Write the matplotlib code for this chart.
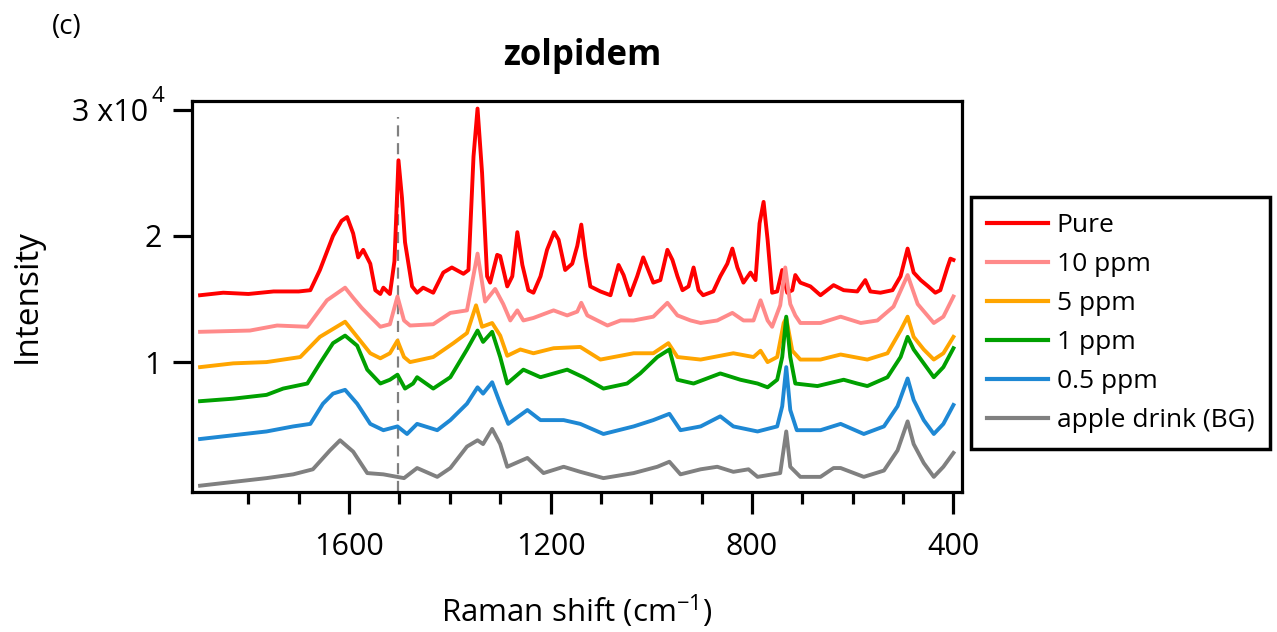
import matplotlib
matplotlib.use("Agg")
import matplotlib.pyplot as plt
from matplotlib.ticker import FixedLocator
from matplotlib.transforms import ScaledTranslation

# ---------------- data (intensity in units of 1e4) ----------------
labels = ["Pure", "10 ppm", "5 ppm", "1 ppm", "0.5 ppm", "apple drink (BG)"]
colors = ["#ff0000", "#ff8a8a", "#ffa500", "#00a000", "#1e88d4", "#808080"]

pure_wn = [1896, 1850, 1800, 1750, 1700, 1677, 1658, 1632, 1615, 1604, 1592, 1582, 1572, 1558,
           1548, 1538, 1532, 1519, 1510, 1502, 1495, 1489, 1475, 1465, 1453, 1433, 1413, 1396,
           1373, 1363, 1353, 1345, 1336, 1326, 1320, 1306, 1300, 1286, 1276, 1266, 1256, 1244,
           1234, 1220, 1207, 1193, 1184, 1171, 1157, 1147, 1139, 1131, 1121, 1101, 1081, 1065,
           1055, 1042, 1028, 1016, 1006, 996, 982, 968, 958, 948, 938, 926, 916, 906, 897, 877,
           863, 849, 839, 829, 817, 803, 793, 785, 777, 769, 760, 750, 740, 730, 720, 714, 704,
           684, 664, 638, 618, 591, 575, 565, 545, 521, 505, 491, 479, 465, 450, 436, 426, 412,
           406, 400]
pure_y = [1.53, 1.55, 1.54, 1.56, 1.56, 1.57, 1.73, 2.00, 2.12, 2.15, 2.02, 1.83, 1.89, 1.78,
          1.57, 1.54, 1.59, 1.54, 1.80, 2.60, 2.30, 1.95, 1.60, 1.55, 1.59, 1.55, 1.71, 1.75,
          1.70, 1.73, 2.63, 3.01, 2.50, 1.68, 1.63, 1.85, 1.84, 1.60, 1.68, 2.03, 1.77, 1.57,
          1.55, 1.68, 1.89, 2.03, 1.97, 1.73, 1.78, 1.92, 2.09, 1.84, 1.60, 1.56, 1.53, 1.77,
          1.69, 1.53, 1.68, 1.83, 1.73, 1.63, 1.65, 1.89, 1.81, 1.68, 1.57, 1.60, 1.75, 1.57,
          1.53, 1.56, 1.68, 1.78, 1.90, 1.75, 1.63, 1.71, 1.65, 2.10, 2.27, 1.97, 1.55, 1.56,
          1.73, 1.55, 1.57, 1.69, 1.63, 1.60, 1.53, 1.61, 1.57, 1.56, 1.65, 1.56, 1.55, 1.57,
          1.68, 1.90, 1.71, 1.65, 1.60, 1.55, 1.57, 1.75, 1.82, 1.81]

ppm10_wn = [1896, 1797, 1743, 1683, 1644, 1608, 1592, 1575, 1558, 1538, 1519, 1504, 1491, 1479,
            1433, 1399, 1366, 1345, 1330, 1310, 1294, 1280, 1266, 1254, 1234, 1194, 1167, 1147,
            1139, 1127, 1087, 1061, 1035, 996, 968, 948, 922, 902, 869, 839, 817, 797, 783, 769,
            760, 744, 734, 724, 714, 704, 664, 624, 584, 551, 519, 491, 471, 439, 420, 400]
ppm10_y = [1.24, 1.25, 1.29, 1.28, 1.49, 1.59, 1.51, 1.43, 1.36, 1.28, 1.30, 1.52, 1.33, 1.29,
           1.30, 1.39, 1.41, 1.86, 1.48, 1.58, 1.46, 1.33, 1.41, 1.33, 1.35, 1.41, 1.37, 1.40,
           1.47, 1.37, 1.29, 1.33, 1.33, 1.36, 1.47, 1.37, 1.33, 1.31, 1.33, 1.39, 1.33, 1.33,
           1.49, 1.33, 1.28, 1.45, 1.75, 1.46, 1.37, 1.31, 1.31, 1.36, 1.31, 1.33, 1.44, 1.69,
           1.46, 1.31, 1.36, 1.52]

ppm5_wn = [1896, 1830, 1764, 1697, 1658, 1608, 1584, 1558, 1538, 1519, 1504, 1491, 1479, 1433,
           1393, 1366, 1348, 1336, 1316, 1300, 1286, 1260, 1234, 1194, 1141, 1101, 1035, 996,
           966, 948, 902, 837, 797, 783, 769, 750, 737, 732, 720, 704, 664, 624, 571, 531, 505,
           491, 479, 459, 439, 420, 400]
ppm5_y = [0.96, 0.99, 1.00, 1.04, 1.20, 1.32, 1.20, 1.07, 1.03, 1.07, 1.17, 1.04, 1.00, 1.04,
          1.15, 1.23, 1.45, 1.28, 1.31, 1.21, 1.05, 1.10, 1.07, 1.11, 1.12, 1.02, 1.07, 1.07,
          1.15, 1.04, 1.02, 1.07, 1.04, 1.09, 1.00, 1.04, 1.31, 1.35, 1.09, 1.02, 1.02, 1.06,
          1.02, 1.07, 1.25, 1.36, 1.20, 1.10, 1.02, 1.07, 1.20]

ppm1_wn = [1896, 1830, 1764, 1731, 1683, 1658, 1632, 1608, 1584, 1564, 1538, 1519, 1504, 1489,
           1473, 1465, 1433, 1399, 1366, 1345, 1334, 1316, 1300, 1286, 1254, 1220, 1167, 1135,
           1095, 1048, 1022, 988, 964, 948, 916, 863, 823, 789, 769, 750, 740, 732, 724, 714,
           670, 618, 591, 571, 531, 505, 491, 479, 459, 439, 420, 400]
ppm1_y = [0.69, 0.71, 0.74, 0.79, 0.83, 0.99, 1.15, 1.21, 1.13, 0.94, 0.83, 0.86, 0.90, 0.79,
          0.83, 0.88, 0.79, 0.88, 1.10, 1.25, 1.16, 1.24, 1.04, 0.83, 0.94, 0.88, 0.94, 0.88,
          0.79, 0.83, 0.91, 1.04, 1.10, 0.86, 0.83, 0.91, 0.86, 0.83, 0.80, 0.86, 1.04, 1.36,
          1.04, 0.83, 0.81, 0.86, 0.83, 0.81, 0.88, 1.04, 1.20, 1.10, 0.99, 0.88, 0.96, 1.11]

ppm05_wn = [1896, 1830, 1764, 1711, 1677, 1652, 1632, 1608, 1584, 1558, 1532, 1504, 1485, 1465,
            1425, 1399, 1366, 1345, 1334, 1316, 1300, 1284, 1246, 1220, 1174, 1141, 1095, 1035,
            996, 964, 942, 902, 863, 837, 789, 750, 740, 732, 724, 711, 664, 624, 578, 538, 511,
            491, 479, 459, 439, 420, 400]
ppm05_y = [0.39, 0.42, 0.45, 0.49, 0.51, 0.67, 0.75, 0.78, 0.67, 0.51, 0.46, 0.49, 0.43, 0.51,
           0.46, 0.54, 0.67, 0.80, 0.75, 0.84, 0.67, 0.51, 0.62, 0.54, 0.54, 0.51, 0.43, 0.49,
           0.54, 0.59, 0.46, 0.49, 0.57, 0.49, 0.45, 0.49, 0.65, 0.96, 0.62, 0.46, 0.46, 0.51,
           0.43, 0.49, 0.65, 0.87, 0.70, 0.54, 0.43, 0.51, 0.66]

bg_wn = [1896, 1830, 1764, 1711, 1672, 1638, 1618, 1592, 1564, 1532, 1491, 1465, 1425, 1399,
         1366, 1345, 1334, 1316, 1300, 1286, 1246, 1214, 1174, 1141, 1095, 1035, 988, 964, 942,
         902, 869, 837, 807, 789, 744, 732, 724, 704, 664, 638, 624, 578, 538, 511, 491, 479,
         459, 439, 420, 400]
bg_y = [0.02, 0.05, 0.08, 0.11, 0.15, 0.30, 0.38, 0.29, 0.12, 0.11, 0.08, 0.16, 0.09, 0.16,
        0.33, 0.38, 0.35, 0.47, 0.35, 0.17, 0.24, 0.12, 0.17, 0.13, 0.08, 0.12, 0.17, 0.21,
        0.11, 0.15, 0.17, 0.13, 0.15, 0.09, 0.12, 0.45, 0.17, 0.09, 0.09, 0.16, 0.16, 0.09,
        0.14, 0.30, 0.53, 0.35, 0.20, 0.09, 0.17, 0.28]

series_wn = [pure_wn, ppm10_wn, ppm5_wn, ppm1_wn, ppm05_wn, bg_wn]
series_y = [pure_y, ppm10_y, ppm5_y, ppm1_y, ppm05_y, bg_y]

x_major = [1600, 1200, 800, 400]
x_minor = [1800, 1700, 1500, 1400, 1300, 1100, 1000, 900, 700, 600, 500]
y_ticks = [1, 2, 3]
y_ticklabels = ["1", "2", "3 x10"]
marker_wn = 1502

# ---------------- figure ----------------
plt.rcParams["font.family"] = ["Open Sans", "DejaVu Sans"]
plt.rcParams["mathtext.default"] = "regular"

W, H = 1277, 632
fig = plt.figure(figsize=(W / 100, H / 100), dpi=100)
ax = fig.add_axes([192 / W, (H - 492) / H, (962 - 192) / W, (492 - 101) / H])

for wn, y, c, lab in zip(series_wn, series_y, colors, labels):
    ax.plot(wn, y, color=c, lw=2.8, label=lab, solid_joinstyle="round")

ax.axvline(marker_wn, ymin=0.0, ymax=0.96, color="#808080", lw=1.6, ls=(0, (5, 3)), zorder=0)

ax.set_xlim(1912, 383)
ax.set_ylim(-0.03, 3.07)

ax.xaxis.set_major_locator(FixedLocator(x_major))
ax.xaxis.set_minor_locator(FixedLocator(x_minor))
ax.set_xticklabels([str(v) for v in x_major])
ax.set_yticks(y_ticks)
ax.set_yticklabels(y_ticklabels)

for s in ax.spines.values():
    s.set_linewidth(2.3)
ax.tick_params(axis="x", which="major", length=16, width=2.3, labelsize=22, pad=13, direction="out")
ax.tick_params(axis="x", which="minor", length=8.5, width=2.3, direction="out")
ax.tick_params(axis="y", which="major", length=14, width=2.3, labelsize=22, pad=8, direction="out")

# shift the top y label left to leave room for its exponent
top_lbl = ax.get_yticklabels()[-1]
top_lbl.set_transform(top_lbl.get_transform() + ScaledTranslation(-13 / 100, 0, fig.dpi_scale_trans))
fig.text(158 / W, 1 - 96 / H, "4", fontsize=16, ha="center", va="center")

# axis labels, title and panel tag
fig.text(577 / W, 1 - 622 / H, r"Raman shift (cm$^{\mathregular{-1}}$)", fontsize=22.5,
         ha="center", va="baseline")
fig.text(27 / W, 1 - 296 / H, "Intensity", fontsize=24, rotation=90,
         ha="center", va="center")
fig.text(582 / W, 1 - 56 / H, "zolpidem", fontsize=25, fontweight="bold", ha="center", va="center")
fig.text(67 / W, 1 - 27 / H, "(c)", fontsize=20, ha="center", va="center")

leg = fig.legend(loc="upper left", bbox_to_anchor=(971 / W, 1 - 197 / H), frameon=True,
                 fancybox=False, edgecolor="black", framealpha=1, fontsize=19,
                 borderpad=0.6, handlelength=2.3, handletextpad=0.35, labelspacing=0.53,
                 borderaxespad=0)
leg.get_frame().set_linewidth(2.5)
for h in leg.get_lines():
    h.set_linewidth(3)

fig.savefig("out.png", dpi=100)
